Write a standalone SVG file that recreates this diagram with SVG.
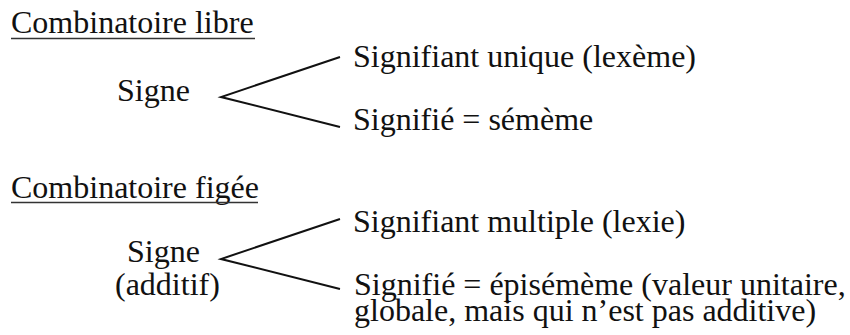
<svg xmlns="http://www.w3.org/2000/svg" width="850" height="335" viewBox="0 0 850 335">
<style>
text{font-size:32px;fill:#111}
.u{stroke:#333;stroke-width:1.5}
.c{stroke:#111;stroke-width:2;fill:none}
</style>
<rect width="850" height="335" fill="#fff"/>
<g font-family="Liberation Serif, Times New Roman, DejaVu Serif, serif">
<g id="heading-libre"><text x="11" y="33">Combinatoire libre</text><line class="u" x1="11" y1="38.5" x2="255" y2="38.5"/></g>
<g id="signe-libre"><text x="117" y="101">Signe</text></g>
<g id="signifiant-unique"><text x="353" y="67">Signifiant unique (lexème)</text></g>
<g id="signifie-sememe"><text x="353" y="130">Signifié = sémème</text></g>
<g id="heading-figee"><text x="11" y="198">Combinatoire figée</text><line class="u" x1="11" y1="202.5" x2="258" y2="202.5"/></g>
<g id="signe-additif"><text x="127" y="262">Signe<tspan x="115" y="295">(additif)</tspan></text></g>
<g id="signifiant-multiple"><text x="353" y="232">Signifiant multiple (lexie)</text></g>
<g id="signifie-episememe"><text x="354" y="295">Signifié = épisémème (valeur unitaire,<tspan x="354" y="321">globale, mais qui n’est pas additive)</tspan></text></g>
</g>
<g id="connectors">
<polyline class="c" points="340,57 221,97 340,127"/>
<polyline class="c" points="340,219 221,259 340,289"/>
</g>
</svg>
